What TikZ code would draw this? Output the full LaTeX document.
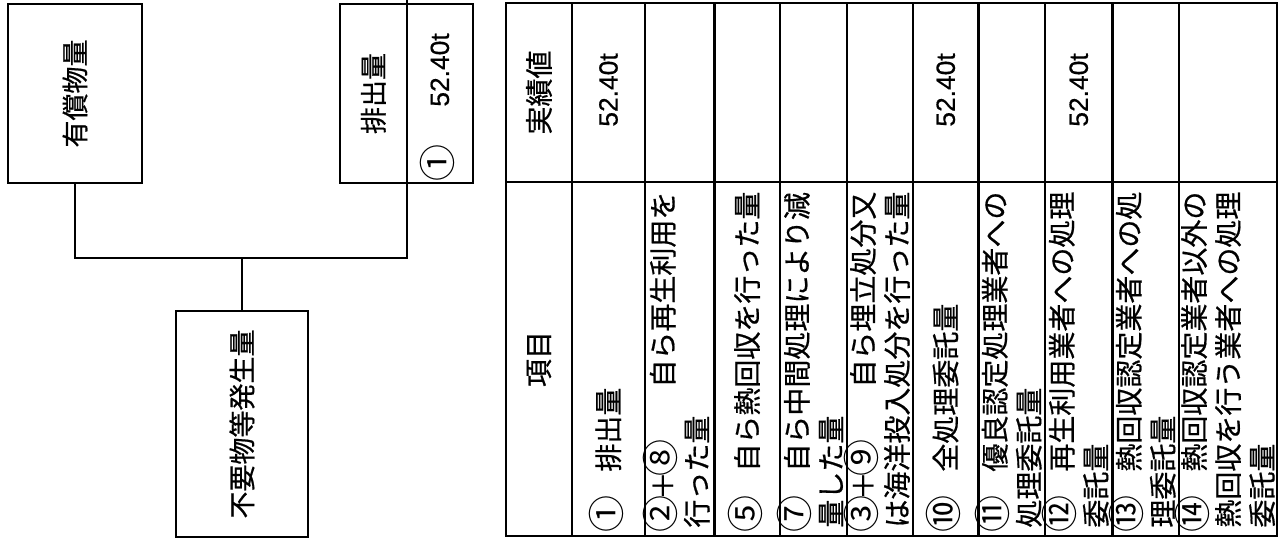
\documentclass[tikz,border=0pt]{standalone}
\usepackage{fontspec}
\usepackage{graphicx}
\setmainfont{Noto Sans CJK JP}[FakeBold=0.6]
\newfontfamily\marufont{Noto Sans CJK JP}
\newfontfamily\numfont{Liberation Sans}[FakeBold=0.5]
\newcommand\maru[1]{\makebox[1em]{\raisebox{-0.05em}[0.8em][0.1em]{\marufont\fontsize{18.5}{17}\selectfont #1}}}

\begin{document}
\begin{tikzpicture}[x=0.5pt, y=-0.5pt,
    box/.style={draw=black, line width=1.1pt, inner sep=0pt, font=\fontsize{13.5}{16}\selectfont},
    cell/.style={rotate=90, anchor=west, inner sep=0pt, align=left, font=\fontsize{14}{17}\selectfont},
    head/.style={rotate=90, inner sep=0pt, font=\fontsize{14}{17}\selectfont},
    val/.style={rotate=90, inner sep=0pt, font=\numfont\fontsize{13.2}{15}\selectfont}]
            \useasboundingbox (0,0) rectangle (1284,541);

            \node[box, minimum width=67pt, minimum height=89.5pt] (yusho) at (75,93.5) {\rotatebox{90}{有償物量}};
            \node[box, minimum width=33.35pt, minimum height=89.5pt] (haishutsu) at (373.35,93.5) {\rotatebox{90}{排出量}};
            \node[box, minimum width=33.15pt, minimum height=89.5pt] (haival) at (439.85,93.5) {};
            \node[cell] (maru1) at (439.85,177) {\maru{①}};
            \node[val] (haival1) at (439.85,70) {52.40t};
            \node[box, minimum width=66pt, minimum height=113pt] (fuyo) at (242,424) {\rotatebox{90}{不要物等発生量}};

            \coordinate (bunki) at (242,258);
            \coordinate (haitop) at (406.7,0);
            \draw[line width=1.1pt] (yusho.south) |- (bunki) -| (haitop);
            \draw[line width=1.1pt] (bunki) -- (fuyo.north);

            \draw[line width=1.1pt] (506,3) rectangle (1277,536);
            \draw[line width=1.1pt] (506,182) -- (1277,182);
            \foreach \x in {572,645,714.5,780,847,913,978.5,1045,1112.5,1179}
                \draw[line width=1.1pt] (\x,3) -- (\x,536);

            \node[head] (jisseki) at (539,92.5) {実績値};
            \node[head] (komoku) at (539,359) {項目};

            \node[cell] (r1) at (608.5,528) {\maru{①}　排出量};
            \node[cell] (r2) at (679.75,528) {\maru{②}＋\maru{⑧}　　自ら再生利用を\\行った量};
            \node[cell] (r5) at (747.25,528) {\maru{⑤}　自ら熱回収を行った量};
            \node[cell] (r7) at (813.5,528) {\maru{⑦}　自ら中間処理により減\\量した量};
            \node[cell] (r3) at (880,528) {\maru{③}＋\maru{⑨}　　自ら埋立処分又\\は海洋投入処分を行った量};
            \node[cell] (r10) at (945.75,528) {\maru{⑩}　全処理委託量};
            \node[cell] (r11) at (1011.75,528) {\maru{⑪}　優良認定処理業者への\\処理委託量};
            \node[cell] (r12) at (1078.75,528) {\maru{⑫}　再生利用業者への処理\\委託量};
            \node[cell] (r13) at (1145.75,528) {\maru{⑬}　熱回収認定業者への処\\理委託量};
            \node[cell] (r14) at (1228,528) {\maru{⑭}　熱回収認定業者以外の\\熱回収を行う業者への処理\\委託量};

            \node[val] (v1) at (608.5,90) {52.40t};
            \node[val] (v10) at (945.75,90) {52.40t};
            \node[val] (v12) at (1078.75,90) {52.40t};

        \end{tikzpicture}
\end{document}
